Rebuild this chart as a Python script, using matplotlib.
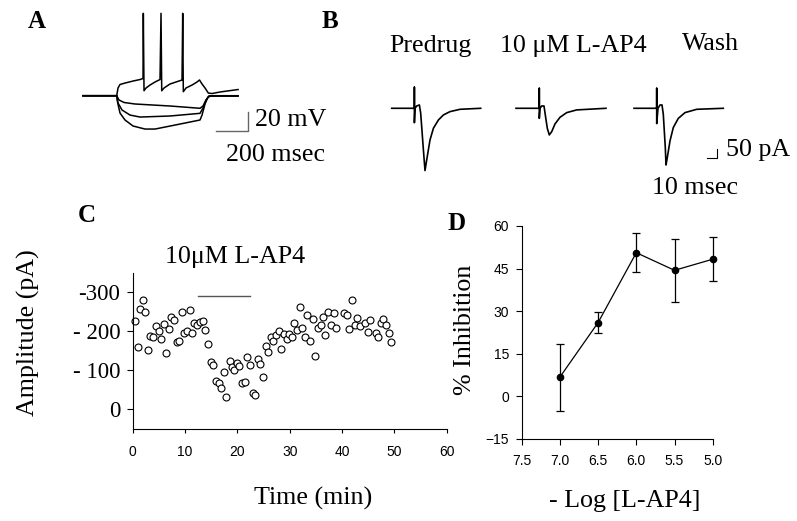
import matplotlib
matplotlib.use("Agg")
import matplotlib.pyplot as plt
import matplotlib.transforms as mtransforms

plt.rcParams['font.family'] = ['Liberation Serif', 'DejaVu Serif']

W, H = 797, 521

# ---------------- data ----------------
# A: current-clamp traces, time (ms) / membrane potential (mV)
a_depol_t = [0, 208.6, 216.7, 229, 260, 309.5, 352.8, 371.4, 373.3, 377.6, 390, 414.7, 445.7,
             476.6, 482.8, 487.2, 501.4, 538.5, 575.7, 612.8, 617.1, 620.8, 637.5, 674.7,
             705.7, 721.1, 736.6, 755.2, 775.6, 798.5, 848, 959.5]
a_depol_v = [-65, -65, -56.9, -53.2, -51.7, -49.6, -48, -46.9, 21.5, -59.8, -56.9, -53.8, -50.6,
             -48, 21.5, -59.8, -56.9, -52.7, -50.6, -48.5, 21.5, -60.8, -56.9, -53.8,
             -50.6, -48.5, -52.7, -56.9, -62.2, -62.7, -61.1, -58.5]
a_hyp1_t = [0, 208.6, 222.8, 253.8, 321.9, 538.5, 724.2, 742.8, 761.4, 780, 959.5]
a_hyp1_v = [-65, -65, -69.5, -72.1, -73.7, -75.8, -78.2, -75.8, -69.5, -65.3, -65.3]
a_hyp2_t = [0, 208.6, 216.7, 241.4, 290.9, 352.8, 538.5, 724.2, 742.8, 761.4, 780, 959.5]
a_hyp2_v = [-65, -65, -72.7, -80, -85.3, -87.4, -86.3, -83.5, -77.9, -69.5, -65.3, -65.3]
a_hyp3_t = [0, 208.6, 213.6, 229, 260, 309.5, 383.8, 445.7, 569.5, 724.2, 736.6, 755.2, 773.7, 798.5, 959.5]
a_hyp3_v = [-65, -65, -71.6, -83.2, -90.5, -96.8, -100, -100, -95.8, -90.5, -85.3, -73.7, -66.4, -65, -65]

# B: evoked currents, time (ms) / current (pA)
b_pre_t = [0, 21.7, 22.7, 22.7, 22.7, 23.3, 25, 27.7, 29, 31.7, 33.3, 35, 38.3, 41.7, 46.7, 51.7, 58.3, 68.3, 89]
b_pre_i = [0, 0, 0, 117, -80, 0, 13, 18.5, -28, -231, -346, -287, -176, -111, -65, -37, -18.5, -5.6, 0]
b_drug_t = [0, 22.3, 23.3, 23.3, 23.3, 24, 25.7, 28, 29.3, 31.3, 33.3, 35.7, 39, 44, 50.7, 60.7, 90]
b_drug_i = [0, 0, 0, 111, -56, 0, 13, 13, -37, -111, -148, -130, -87, -50, -24, -9, 0]
b_wash_t = [0, 22, 22.7, 22.7, 22.7, 24, 26, 28, 29.3, 31.3, 32, 33.3, 36, 39.3, 44.3, 51, 62.7, 89.3]
b_wash_i = [0, 0, 0, 111, -85, 0, 18.5, 18.5, -33, -218, -315, -274, -181, -107, -56, -24, -5.6, 0]
b_names = ["Predrug", "10 μM L-AP4", "Wash"]

# C: amplitude time course
c_time = [0.4, 1.0, 1.4, 1.9, 2.4, 2.9, 3.4, 3.9, 4.4, 5.0, 5.5, 5.9, 6.4, 6.9, 7.4, 7.9, 8.4, 8.9,
          9.4, 9.8, 10.3, 10.9, 11.3, 11.8, 12.3, 12.9, 13.4, 13.9, 14.4, 14.9, 15.4, 15.9, 16.4,
          16.9, 17.4, 17.9, 18.5, 19.0, 19.4, 19.9, 20.4, 20.9, 21.4, 21.9, 22.4, 22.9, 23.4, 23.9,
          24.4, 24.9, 25.4, 25.9, 26.4, 26.9, 27.4, 27.9, 28.4, 28.9, 29.4, 29.9, 30.4, 30.9, 31.4,
          31.9, 32.4, 32.9, 33.4, 33.9, 34.4, 34.9, 35.4, 35.9, 36.4, 36.8, 37.4, 37.9, 38.4, 38.9,
          40.4, 40.9, 41.4, 41.9, 42.4, 42.9, 43.4, 44.4, 44.9, 45.4, 46.4, 46.9, 47.4, 47.9, 48.4,
          48.9, 49.4]
c_amp = [225, 158, 255, 278, 247, 150, 187, 183, 212, 200, 179, 218, 143, 204, 235, 228, 172, 174,
         248, 194, 200, 253, 194, 219, 214, 222, 224, 202, 166, 121, 112, 73, 66,
         54, 96, 31, 124, 107, 100, 119, 111, 66, 70, 134, 113, 41, 36, 128,
         115, 81, 161, 145, 185, 175, 189, 200, 154, 192, 179, 192, 185, 219, 202,
         260, 207, 185, 240, 173, 230, 136, 207, 214, 234, 190, 247, 214, 245, 206,
         246, 241, 204, 278, 216, 233, 212, 219, 198, 228, 194, 184, 219, 230, 214,
         194, 172]
c_drug_on, c_drug_off, c_drug_level = 12.5, 22.4, 289
c_yticks = [300, 200, 100, 0]
c_ylabels = ["-300", "- 200", "- 100", "0"]

# D: dose response
d_logc = [7.0, 6.5, 6.0, 5.5, 5.0]
d_inh = [6.8, 26.0, 50.6, 44.4, 48.3]
d_err = [11.8, 3.6, 6.9, 11.0, 7.8]


def box(x0, y0, x1, y1):
    # pixel box (top-left origin) -> figure fraction rect
    return [x0 / W, 1 - y1 / H, (x1 - x0) / W, (y1 - y0) / H]


fig = plt.figure(figsize=(W / 100, H / 100), dpi=100)


def ftext(x, y, s, **kw):
    fig.text(x / W, 1 - y / H, s, **kw)


big = 18.7
# ---------------- A ----------------
ax_a = fig.add_axes(box(70, 0, 300, 200))
ax_a.axis('off')
ax_a.set_xlim(-80.5, 1343)
ax_a.set_ylim(-174.5, 35.5)
for t, v in [(a_depol_t, a_depol_v), (a_hyp1_t, a_hyp1_v), (a_hyp2_t, a_hyp2_v), (a_hyp3_t, a_hyp3_v)]:
    ax_a.plot(t, v, color='black', lw=1.1)
ax_a.plot([823, 1023, 1023], [-101.75, -101.75, -81.75], color='#666666', lw=1.0)
ftext(255, 119.5, "20 mV", fontsize=big, va='center', ha='left')
ftext(276, 155, "200 msec", fontsize=big, va='center', ha='center')

# ---------------- B ----------------
ax_b = fig.add_axes(box(380, 60, 797, 200))
ax_b.axis('off')
ax_b.set_xlim(-11.7, 405.3)
ax_b.set_ylim(-509.5, 268.3)
offsets = [0, 124.3, 242.3]
for off, (t, i) in zip(offsets, [(b_pre_t, b_pre_i), (b_drug_t, b_drug_i), (b_wash_t, b_wash_i)]):
    ax_b.plot([x + off for x in t], i, color='black', lw=1.2)
ax_b.plot([315, 325, 325], [-277.8, -277.8, -227.8], color='black', lw=0.8)
for x, y, s in zip([430, 573, 710], [46, 46, 44], b_names):
    ftext(x, y, s, fontsize=big, ha='center', va='center')
ftext(726, 150, "50 pA", fontsize=big, va='center', ha='left')
ftext(695, 188, "10 msec", fontsize=big, va='center', ha='center')

# ---------------- C ----------------
ax_c = fig.add_axes(box(132.7, 272.7, 446.7, 429.3))
ax_c.plot(c_time, c_amp, 'o', mfc='white', mec='black', ms=5, mew=0.8, clip_on=False)
ax_c.plot([c_drug_on, c_drug_off], [c_drug_level, c_drug_level], color='#555555', lw=1.0)
ax_c.set_xlim(0, 60)
ax_c.set_ylim(-51, 348)
ax_c.set_xticks(range(0, 61, 10))
ax_c.set_yticks(c_yticks)
ax_c.set_yticklabels(c_ylabels, fontsize=16.5)
for lbl, dy in zip(ax_c.get_yticklabels(), [5, 3, 3, 9]):
    lbl.set_transform(lbl.get_transform() + mtransforms.ScaledTranslation(0, -dy / 100, fig.dpi_scale_trans))
for lbl in ax_c.get_xticklabels():
    lbl.set_fontfamily('Liberation Sans')
    lbl.set_fontsize(10)
ax_c.tick_params(axis='x', length=3, width=0.8, pad=8)
ax_c.tick_params(axis='y', length=4, width=0.8, pad=5)
for s in ['top', 'right']:
    ax_c.spines[s].set_visible(False)
for s in ['left', 'bottom']:
    ax_c.spines[s].set_linewidth(0.8)
ftext(235, 257, "10μM L-AP4", fontsize=big, ha='center', va='center')
ftext(28, 333, "Amplitude (pA)", fontsize=big, rotation=90, ha='center', va='center')
ftext(313, 498, "Time (min)", fontsize=big, ha='center', va='center')

# ---------------- D ----------------
ax_d = fig.add_axes(box(521.7, 226, 712.7, 439))
eb = ax_d.errorbar(d_logc, d_inh, yerr=d_err, fmt='-o', color='black', lw=0.9, ms=4.5,
                   elinewidth=0.9, capsize=2.8, capthick=0.9)
for art in eb.lines[1] + eb.lines[2] + (eb.lines[0],):
    art.set_clip_on(False)
ax_d.set_xlim(7.5, 5.0)
ax_d.set_ylim(-15, 60)
ax_d.set_xticks([7.5, 7.0, 6.5, 6.0, 5.5, 5.0])
ax_d.set_xticklabels(["7.5", "7.0", "6.5", "6.0", "5.5", "5.0"])
ax_d.set_yticks(range(-15, 61, 15))
for lbl in ax_d.get_xticklabels() + ax_d.get_yticklabels():
    lbl.set_fontfamily('Liberation Sans')
    lbl.set_fontsize(10)
ax_d.tick_params(axis='x', length=4, width=0.8, pad=7)
ax_d.tick_params(axis='y', length=4, width=0.8, pad=5)
for s in ['top', 'right']:
    ax_d.spines[s].set_visible(False)
for s in ['left', 'bottom']:
    ax_d.spines[s].set_linewidth(0.8)
ftext(465, 330, "% Inhibition", fontsize=big, rotation=90, ha='center', va='center')
ftext(625, 501, "- Log [L-AP4]", fontsize=big, ha='center', va='center')

# panel letters
for x, y, s in [(37, 21, "A"), (330, 21, "B"), (87, 215, "C"), (457, 223, "D")]:
    ftext(x, y, s, fontsize=18, fontweight='bold', ha='center', va='center')

fig.savefig("out.png", dpi=100)
